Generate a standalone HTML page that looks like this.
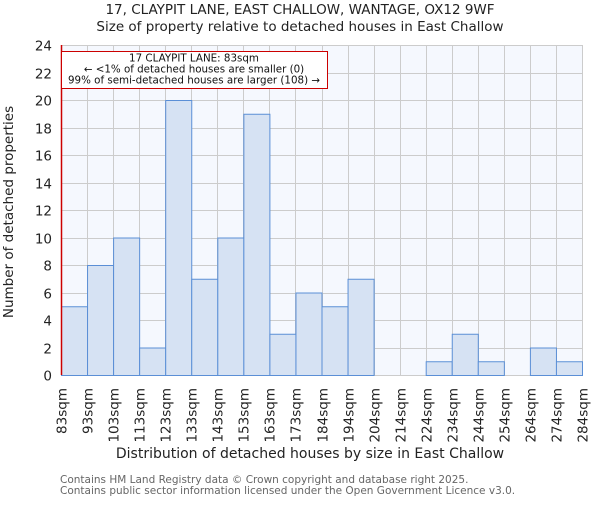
<!DOCTYPE html>
<html><head><meta charset="utf-8"><style>
body{margin:0;background:#fff;}
svg text{font-family:"DejaVu Sans","Liberation Sans",sans-serif;}
</style></head><body>
<svg id="chart" width="600" height="500" xmlns="http://www.w3.org/2000/svg">
<text x="300" y="14" text-anchor="middle" font-size="13.5" fill="#222">17, CLAYPIT LANE, EAST CHALLOW, WANTAGE, OX12 9WF</text>
<text x="300" y="31" text-anchor="middle" font-size="13.5" fill="#222">Size of property relative to detached houses in East Challow</text>
<rect x="61" y="45" width="521" height="330" fill="#f5f8fe"/>
<g id="grid"></g>
<g id="bars"></g>
<g id="yticks"></g>
<g id="xticks"></g>
<line x1="61.5" y1="45" x2="61.5" y2="375" stroke="#cc0000" stroke-width="1.5"/>
<g>
<rect x="61.5" y="51.5" width="266" height="37" fill="#fff" stroke="#cc0000" stroke-width="1"/>
<text x="194" y="61.5" text-anchor="middle" font-size="10.3" fill="#111">17 CLAYPIT LANE: 83sqm</text>
<text x="194" y="72.5" text-anchor="middle" font-size="10.3" fill="#111">← &lt;1% of detached houses are smaller (0)</text>
<text x="194" y="83.5" text-anchor="middle" font-size="10.3" fill="#111">99% of semi-detached houses are larger (108) →</text>
</g>
<text x="310" y="458" text-anchor="middle" font-size="14" fill="#222">Distribution of detached houses by size in East Challow</text>
<text transform="translate(13,212) rotate(-90)" text-anchor="middle" font-size="13.5" fill="#222">Number of detached properties</text>
<text x="60" y="483" font-size="10.5" fill="#666">Contains HM Land Registry data © Crown copyright and database right 2025.</text>
<text x="60" y="494" font-size="10.5" fill="#666">Contains public sector information licensed under the Open Government Licence v3.0.</text>
</svg>
<script>
const categories=["83sqm","93sqm","103sqm","113sqm","123sqm","133sqm","143sqm","153sqm","163sqm","173sqm","184sqm","194sqm","204sqm","214sqm","224sqm","234sqm","244sqm","254sqm","264sqm","274sqm","284sqm"];
const counts=[5,8,10,2,20,7,10,19,3,6,5,7,0,0,1,3,1,0,2,1];
const yTicks=[0,2,4,6,8,10,12,14,16,18,20,22,24];
const NS="http://www.w3.org/2000/svg";
const X0=61,X1=582,Y0=375,Y1=45,YMAX=24;
const nb=counts.length,bw=(X1-X0)/nb;
function xs(i){return X0+i*bw;}
function ys(v){return Y0-(v/YMAX)*(Y0-Y1);}
function mk(t,a,p){const e=document.createElementNS(NS,t);for(const k in a)e.setAttribute(k,a[k]);p.appendChild(e);return e;}
const grid=document.getElementById('grid'),bars=document.getElementById('bars'),yt=document.getElementById('yticks'),xt=document.getElementById('xticks');
yTicks.forEach(v=>{const y=Math.round(ys(v))+0.5;
const l=mk('line',{x1:X0,x2:X1,y1:y,y2:y,stroke:'#cccccc','stroke-width':1},grid);


const t=mk('text',{x:52,y:y+5,'text-anchor':'end','font-size':13.5,fill:'#222'},yt);t.textContent=v;

});
categories.forEach((c,i)=>{const x=Math.round(xs(i))+0.5;
const l=mk('line',{x1:x,x2:x,y1:Y1,y2:Y0,stroke:'#cccccc','stroke-width':1},grid);


const t=mk('text',{transform:`translate(${x+5},388) rotate(-90)`,'text-anchor':'end','font-size':13.5,fill:'#222'},xt);t.textContent=c;

});
counts.forEach((v,i)=>{if(v<=0)return;const x=xs(i),y=ys(v);
const r=mk('rect',{x:x+0.5,y:y+0.5,width:bw,height:Y0-y,fill:'#d6e2f3',stroke:'#5b8fd6','stroke-width':1},bars);

});
</script>
</body></html>
